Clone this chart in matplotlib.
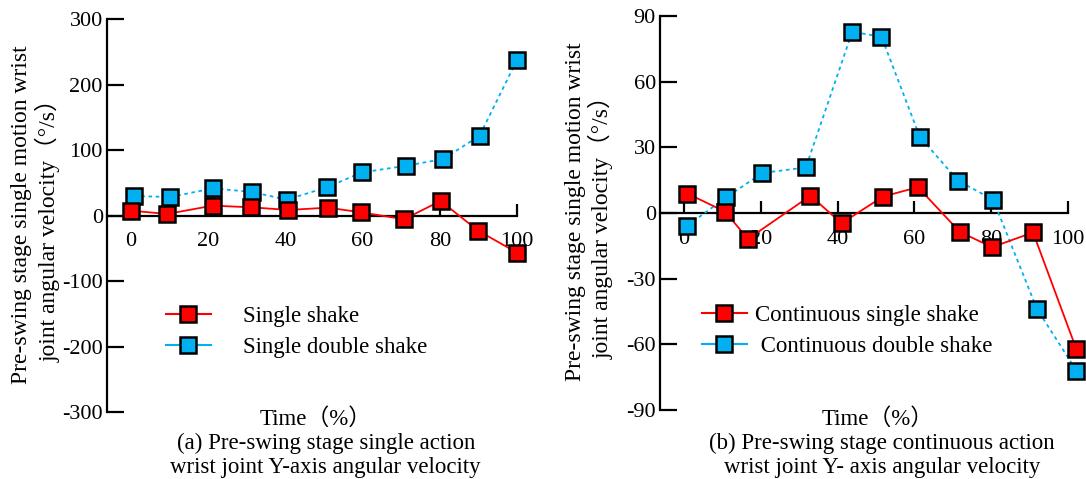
import matplotlib
matplotlib.use("Agg")
import matplotlib.pyplot as plt
from matplotlib.lines import Line2D

plt.rcParams['font.family'] = ['Liberation Serif', 'Noto Sans CJK SC']
plt.rcParams['axes.unicode_minus'] = False

# (a) single action
t_single = [0, 9.4, 21.2, 31, 40.8, 51, 59.5, 70.7, 80.2, 90, 100]
single_shake = [7.6, 2.6, 15.3, 12.8, 8.7, 12.2, 5.2, -5.5, 22.4, -23.2, -56.5]
t_single_double = [0.8, 10.1, 21.3, 31.3, 40.4, 50.7, 59.8, 71.3, 80.9, 90.3, 100]
single_double_shake = [30, 28.5, 41.7, 36.2, 24.4, 43.2, 66, 76.3, 86.5, 122, 238]

# (b) continuous action
t_cont = [0.8, 10.7, 16.6, 32.9, 41, 51.8, 60.9, 71.8, 80.2, 90.9, 102.2]
cont_single_shake = [8.9, 0.6, -11.9, 7.9, -4.7, 7.5, 11.8, -8.6, -15.6, -8.9, -62.3]
t_cont_double = [0.8, 10.9, 20.4, 31.7, 43.8, 51.4, 61.4, 71.4, 80.5, 91.9, 102.2]
cont_double_shake = [-5.8, 7.1, 18.3, 20.8, 82.8, 80.5, 34.8, 14.7, 6.1, -43.8, -72]

x_ticks = [0, 20, 40, 60, 80, 100]
yticks_a = [-300, -200, -100, 0, 100, 200, 300]
yticks_b = [-90, -60, -30, 0, 30, 60, 90]

RED = '#ff0000'
BLUE = '#00b0f0'
W, H = 1086, 479
FS = 16.5

fig = plt.figure(figsize=(W / 100, H / 100), dpi=100)


def px_axes(x0, x1, ytop, ybot):
    return fig.add_axes([x0 / W, 1 - ybot / H, (x1 - x0) / W, (ybot - ytop) / H])


def px_text(x, y, s, **kw):
    fig.text(x / W, 1 - y / H, s, ha='center', va='center', **kw)


def style_axes(ax, xlim, ylim, yticks):
    ax.set_xlim(*xlim)
    ax.set_ylim(*ylim)
    for s in ('top', 'right'):
        ax.spines[s].set_visible(False)
    ax.spines['bottom'].set_position(('data', 0))
    ax.spines['left'].set_linewidth(1.6)
    ax.spines['bottom'].set_linewidth(1.6)
    ax.set_xticks(x_ticks)
    ax.set_yticks(yticks)
    ax.tick_params(axis='y', direction='in', length=12, width=1.6, pad=3, labelsize=16)
    ax.tick_params(axis='x', direction='in', length=9, width=1.6, pad=12, labelsize=16)
    ax.patch.set_alpha(0)


def draw(ax, t, y, color, ls):
    ax.plot(t, y, color=color, linestyle=ls, linewidth=1.3, marker='s',
            markersize=12, markerfacecolor=color, markeredgecolor='black',
            markeredgewidth=1.8, clip_on=False, zorder=3)


def handles():
    return [Line2D([], [], color=c, lw=1.5, marker='s', markersize=12,
                   markerfacecolor=c, markeredgecolor='black', markeredgewidth=1.8)
            for c in (RED, BLUE)]


ylab1 = "Pre-swing stage single motion wrist"
ylab2 = "joint angular velocity（°/s）"

# ---- panel (a)
ax1 = px_axes(107, 517, 19.3, 412)
style_axes(ax1, (-6.2, 100), (-300, 300), yticks_a)
draw(ax1, t_single_double, single_double_shake, BLUE, (0, (2, 2)))
draw(ax1, t_single, single_shake, RED, '-')
ax1.legend(handles(), ['Single shake', 'Single double shake'],
           loc='upper left', bbox_to_anchor=(166 / W, 1 - 306 / H),
           bbox_transform=fig.transFigure, frameon=False, fontsize=FS,
           handlelength=1.95, handletextpad=1.4, labelspacing=0.45,
           borderpad=0, borderaxespad=0)

px_text(22, 215, ylab1, rotation=90, fontsize=17)
px_text(48, 225, ylab2, rotation=90, fontsize=17)
px_text(316, 419, 'Time（%）', fontsize=FS)
px_text(326, 443, '(a) Pre-swing stage single action', fontsize=FS)
px_text(325, 467, 'wrist joint Y-axis angular velocity', fontsize=FS)

# ---- panel (b)
ax2 = px_axes(660, 1068, 16, 410)
style_axes(ax2, (-6.3, 100), (-90, 90), yticks_b)
draw(ax2, t_cont_double, cont_double_shake, BLUE, (0, (2, 2)))
draw(ax2, t_cont, cont_single_shake, RED, '-')
ax2.legend(handles(), ['Continuous single shake', ' Continuous double shake'],
           loc='upper left', bbox_to_anchor=(702 / W, 1 - 305 / H),
           bbox_transform=fig.transFigure, frameon=False, fontsize=FS,
           handlelength=1.95, handletextpad=0.36, labelspacing=0.45,
           borderpad=0, borderaxespad=0)

px_text(575, 212, ylab1, rotation=90, fontsize=17)
px_text(601, 222, ylab2, rotation=90, fontsize=17)
px_text(878, 419, 'Time（%）', fontsize=FS)
px_text(882, 443, '(b) Pre-swing stage continuous action', fontsize=FS)
px_text(882, 467, 'wrist joint Y- axis angular velocity', fontsize=FS)

fig.savefig('out.png', dpi=100)
